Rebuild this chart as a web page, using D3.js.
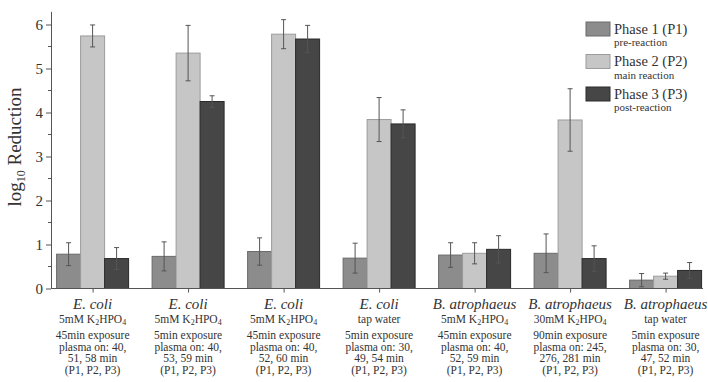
<!DOCTYPE html>
<html>
<head>
<meta charset="utf-8">
<script src="https://cdn.jsdelivr.net/npm/d3@7"></script>
<style>
  body { margin: 0; background: #fff; }
  svg text { font-family: "Liberation Serif", "DejaVu Serif", serif; fill: #333; }
</style>
</head>
<body>
<div id="chart-area"></div>
<script>
// Data
let groups = ["g1", "g2", "g3", "g4", "g5", "g6", "g7"];
let phases = ["P1", "P2", "P3"];

let organism = ["E. coli", "E. coli", "E. coli", "E. coli", "B. atrophaeus", "B. atrophaeus", "B. atrophaeus"];
let medium = ["5mM K2HPO4", "5mM K2HPO4", "5mM K2HPO4", "tap water", "5mM K2HPO4", "30mM K2HPO4", "tap water"];
let details = [
    ["45min exposure", "plasma on: 40,", "51, 58 min", "(P1, P2, P3)"],
    ["5min exposure", "plasma on: 40,", "53, 59 min", "(P1, P2, P3)"],
    ["45min exposure", "plasma on: 40,", "52, 60 min", "(P1, P2, P3)"],
    ["5min exposure", "plasma on: 30,", "49, 54 min", "(P1, P2, P3)"],
    ["45min exposure", "plasma on: 40,", "52, 59 min", "(P1, P2, P3)"],
    ["90min exposure", "plasma on: 245,", "276, 281 min", "(P1, P2, P3)"],
    ["5min exposure", "plasma on: 30,", "47, 52 min", "(P1, P2, P3)"]
];

let p1Values = [0.78, 0.73, 0.84, 0.69, 0.76, 0.80, 0.19];
let p2Values = [5.74, 5.35, 5.78, 3.84, 0.80, 3.83, 0.28];
let p3Values = [0.68, 4.25, 5.67, 3.74, 0.89, 0.68, 0.41];
let p1Errors = [0.26, 0.33, 0.31, 0.34, 0.28, 0.44, 0.15];
let p2Errors = [0.25, 0.63, 0.33, 0.50, 0.24, 0.71, 0.07];
let p3Errors = [0.25, 0.13, 0.31, 0.32, 0.31, 0.29, 0.18];

let legendTitles = ["Phase 1 (P1)", "Phase 2 (P2)", "Phase 3 (P3)"];
let legendSubs = ["pre-reaction", "main reaction", "post-reaction"];
let yTicks = [0, 1, 2, 3, 4, 5, 6];

let fills = {P1: "#8c8c8c", P2: "#c6c6c6", P3: "#464646"};
let strokes = {P1: "#6a6a6a", P2: "#9c9c9c", P3: "#2a2a2a"};

let svgWidth = 708, svgHeight = 382;
let axisLeft = 51, axisRight = 703, axisBottom = 288.5;

let svg = d3.select("#chart-area").append("svg")
    .attr("width", svgWidth)
    .attr("height", svgHeight);

// Build rows from arrays
let values = {P1: p1Values, P2: p2Values, P3: p3Values};
let errors = {P1: p1Errors, P2: p2Errors, P3: p3Errors};
let rows = [];
groups.forEach((g, i) => {
    phases.forEach(p => {
        rows.push({group: g, phase: p, value: values[p][i], err: errors[p][i]});
    });
});

// Scales
let yScale = d3.scaleLinear()
    .domain([0, 6.3])
    .range([axisBottom, axisBottom - 6.3 * 44]);

let xScale = d3.scalePoint()
    .domain(groups)
    .range([92.6, 665.6]);

let xSub = d3.scaleBand()
    .domain(phases)
    .range([-36, 36]);

// Bars
svg.append("g").selectAll("rect")
    .data(rows)
    .enter()
    .append("rect")
    .attr("x", d => xScale(d.group) + xSub(d.phase))
    .attr("y", d => yScale(d.value))
    .attr("width", xSub.bandwidth())
    .attr("height", d => yScale(0) - yScale(d.value))
    .attr("fill", d => fills[d.phase])
    .attr("stroke", d => strokes[d.phase])
    .attr("stroke-width", 1);

// Error bars
let errG = svg.append("g")
    .attr("stroke", "#555")
    .attr("stroke-width", 1);

rows.forEach(d => {
    let cx = xScale(d.group) + xSub(d.phase) + xSub.bandwidth() / 2;
    let yTop = yScale(d.value + d.err);
    let yBot = yScale(Math.max(0, d.value - d.err));
    errG.append("line").attr("x1", cx).attr("x2", cx).attr("y1", yTop).attr("y2", yBot);
    errG.append("line").attr("x1", cx - 2.5).attr("x2", cx + 2.5).attr("y1", yTop).attr("y2", yTop);
    errG.append("line").attr("x1", cx - 2.5).attr("x2", cx + 2.5).attr("y1", yBot).attr("y2", yBot);
});

// Y axis
let yAxis = d3.axisLeft(yScale)
    .tickValues(yTicks)
    .tickFormat(d3.format("d"))
    .tickSize(5)
    .tickPadding(3)
    .tickSizeOuter(0);

let yAxisG = svg.append("g")
    .attr("class", "y-axis")
    .attr("transform", "translate(" + axisLeft + ",0)")
    .call(yAxis);

yAxisG.select(".domain").attr("stroke", "#555");
yAxisG.selectAll(".tick line").attr("stroke", "#555");
yAxisG.selectAll(".tick text")
    .style("font-size", "15px")
    .attr("fill", "#333");

// minor ticks
svg.append("g")
    .attr("transform", "translate(" + axisLeft + ",0)")
    .selectAll("line")
    .data(d3.range(0.5, 6.3, 1))
    .enter()
    .append("line")
    .attr("x1", -3)
    .attr("x2", 0)
    .attr("y1", d => yScale(d))
    .attr("y2", d => yScale(d))
    .attr("stroke", "#555");

// X axis
let xAxis = d3.axisBottom(xScale)
    .tickSize(4)
    .tickFormat("");

let xAxisG = svg.append("g")
    .attr("class", "x-axis")
    .attr("transform", "translate(0," + axisBottom + ")")
    .call(xAxis);

xAxisG.select(".domain").remove();
xAxisG.selectAll(".tick line").attr("stroke", "#555");
xAxisG.append("line")
    .attr("x1", axisLeft)
    .attr("x2", axisRight)
    .attr("y1", 0)
    .attr("y2", 0)
    .attr("stroke", "#555");

// Category labels
groups.forEach((g, i) => {
    let cx = xScale(g);

    svg.append("text")
        .attr("x", cx)
        .attr("y", 309)
        .attr("text-anchor", "middle")
        .style("font-size", "15px")
        .style("font-style", "italic")
        .text(organism[i]);

    let line2 = svg.append("text")
        .attr("x", cx)
        .attr("y", 322.5)
        .attr("text-anchor", "middle")
        .style("font-size", "11.5px");
    let m = medium[i].match(/^(\S+) K2HPO4$/);
    if (m) {
        line2.append("tspan").text(m[1] + " K");
        line2.append("tspan").attr("dy", 2.5).style("font-size", "8px").text("2");
        line2.append("tspan").attr("dy", -2.5).text("HPO");
        line2.append("tspan").attr("dy", 2.5).style("font-size", "8px").text("4");
    } else {
        line2.text(medium[i]);
    }

    details[i].forEach((line, j) => {
        svg.append("text")
            .attr("x", cx)
            .attr("y", 339 + j * 11.6)
            .attr("text-anchor", "middle")
            .style("font-size", "11.5px")
            .text(line);
    });
});

// Y-axis label
let yLabel = svg.append("text")
    .attr("transform", "translate(21,147) rotate(-90)")
    .attr("text-anchor", "middle")
    .style("font-size", "19px");
yLabel.append("tspan").text("log");
yLabel.append("tspan").attr("dy", 4).style("font-size", "12px").text("10");
yLabel.append("tspan").attr("dy", -4).text(" Reduction");

// Legend
let legend = svg.append("g")
    .attr("transform", "translate(586,22)");

phases.forEach((p, i) => {
    let row = legend.append("g")
        .attr("transform", "translate(0," + (i * 32.5) + ")");
    row.append("rect")
        .attr("width", 24)
        .attr("height", 14)
        .attr("fill", fills[p])
        .attr("stroke", strokes[p]);
    row.append("text")
        .attr("x", 28)
        .attr("y", 11.5)
        .style("font-size", "14.5px")
        .text(legendTitles[i]);
    row.append("text")
        .attr("x", 28)
        .attr("y", 24)
        .style("font-size", "11px")
        .text(legendSubs[i]);
});
</script>
</body>
</html>
